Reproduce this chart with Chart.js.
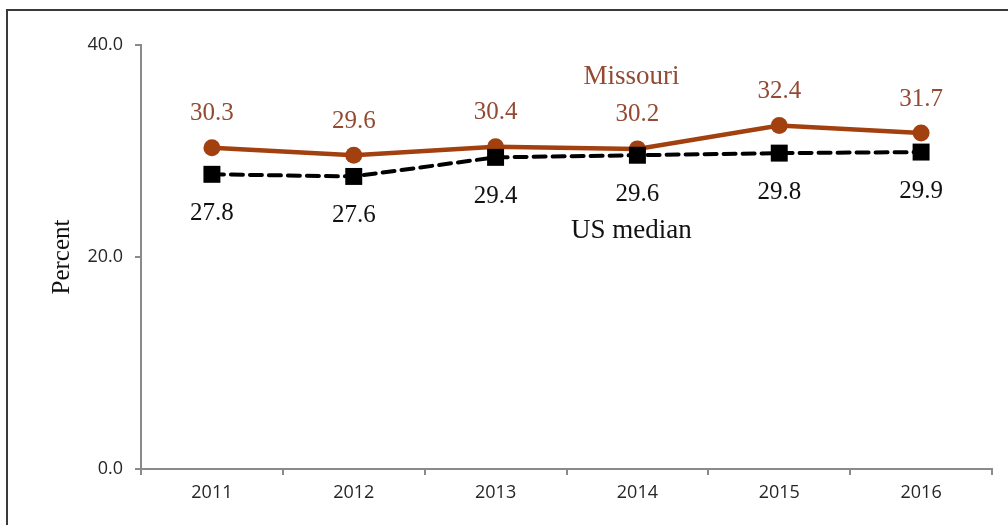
<!DOCTYPE html>
<html>
<head>
<meta charset="utf-8">
<script src="https://cdn.jsdelivr.net/npm/chart.js@4.4.1/dist/chart.umd.min.js"></script>
<style>
  html, body { margin: 0; padding: 0; background: #fff; overflow: hidden; }
  .frame { position: absolute; left: 6px; top: 9px; width: 1100px; height: 700px; border: 2px solid #3a3a3a; }
  .wrap { position: absolute; left: 0; top: 0; width: 1008px; height: 525px; }
</style>
</head>
<body>
<div class="frame"></div>
<div class="wrap"><canvas id="chart"></canvas></div>
<script>
  // Data
  const years = ['2011', '2012', '2013', '2014', '2015', '2016'];
  const missouri = [30.3, 29.6, 30.4, 30.2, 32.4, 31.7];
  const usMedian = [27.8, 27.6, 29.4, 29.6, 29.8, 29.9];
  const yTicks = [0, 20, 40];

  const brown = '#a2400f';
  const brownText = '#934a33';
  const axisFont = { size: 18, family: '"Open Sans", "Liberation Sans", sans-serif' };

  // Value labels, series names and axis title
  const labelPlugin = {
    id: 'labels',
    afterDatasetsDraw(chart) {
      const ctx = chart.ctx;
      const x = chart.scales.x, y = chart.scales.y;
      ctx.save();
      ctx.textAlign = 'center';
      ctx.textBaseline = 'middle';
      ctx.font = '25px "Liberation Serif", "Times New Roman", serif';

      ctx.fillStyle = brownText;
      missouri.forEach((v, i) => {
        ctx.fillText(v.toFixed(1), x.getPixelForValue(i), y.getPixelForValue(v) - 34);
      });
      ctx.fillStyle = '#111';
      usMedian.forEach((v, i) => {
        ctx.fillText(v.toFixed(1), x.getPixelForValue(i), y.getPixelForValue(v) + 39);
      });

      ctx.font = '27px "Liberation Serif", "Times New Roman", serif';
      const nameX = x.getPixelForValue(3) - 6;
      ctx.fillStyle = brownText;
      ctx.fillText('Missouri', nameX, y.getPixelForValue(37.0));
      ctx.fillStyle = '#111';
      ctx.fillText('US median', nameX, y.getPixelForValue(22.5));

      // y axis title
      ctx.translate(62, (y.top + y.bottom) / 2);
      ctx.rotate(-Math.PI / 2);
      ctx.font = '25px "Liberation Serif", "Times New Roman", serif';
      ctx.fillText('Percent', 0, 0);
      ctx.restore();
    }
  };

  new Chart(document.getElementById('chart'), {
    type: 'line',
    data: {
      labels: years,
      datasets: [
        {
          label: 'Missouri',
          data: missouri,
          order: 1,
          borderColor: brown,
          backgroundColor: brown,
          borderWidth: 4.5,
          pointStyle: 'circle',
          pointRadius: 8.5,
          pointBorderWidth: 0,
          tension: 0
        },
        {
          label: 'US median',
          data: usMedian,
          order: 0,
          borderColor: '#000',
          backgroundColor: '#000',
          borderWidth: 4,
          borderDash: [12, 7],
          borderCapStyle: 'round',
          pointStyle: 'rect',
          pointRadius: 12,
          pointBorderWidth: 0,
          tension: 0
        }
      ]
    },
    options: {
      responsive: true,
      maintainAspectRatio: false,
      animation: false,
      layout: { padding: { left: 0, top: 45, right: 16, bottom: 0 } },
      plugins: {
        legend: { display: false },
        tooltip: { enabled: false }
      },
      scales: {
        x: {
          offset: true,
          grid: {
            offset: true,
            drawOnChartArea: false,
            drawTicks: true,
            tickLength: 6,
            color: '#8a8a8a',
            lineWidth: 2
          },
          border: { color: '#8a8a8a', width: 2 },
          ticks: {
            padding: 7,
            color: '#262626',
            font: axisFont
          },
          afterFit(scale) { scale.height = 56; }
        },
        y: {
          min: 0,
          max: 40,
          afterBuildTicks(scale) { scale.ticks = yTicks.map(v => ({ value: v })); },
          grid: {
            drawOnChartArea: false,
            drawTicks: true,
            tickLength: 6,
            color: '#8a8a8a',
            lineWidth: 2
          },
          border: { color: '#8a8a8a', width: 2 },
          ticks: {
            padding: 12,
            color: '#262626',
            font: axisFont,
            callback: v => v.toFixed(1)
          },
          afterFit(scale) { scale.width = 141; }
        }
      }
    },
    plugins: [labelPlugin]
  });
</script>
</body>
</html>
